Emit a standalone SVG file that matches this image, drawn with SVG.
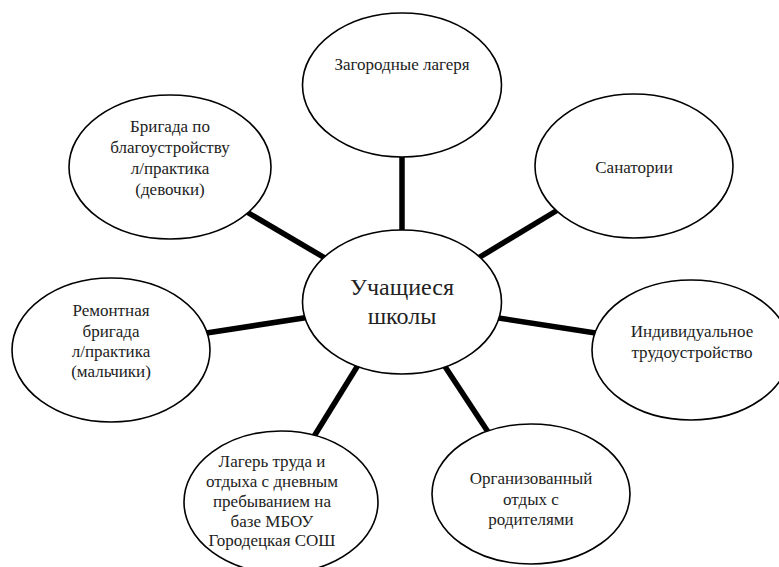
<svg xmlns="http://www.w3.org/2000/svg" width="779" height="567" viewBox="0 0 779 567">
<style>
.n ellipse{fill:#fff;stroke:#000;stroke-width:1.6}
.c line{stroke:#000;stroke-width:5.5}
text{font-family:"Liberation Serif","Times New Roman",serif;font-size:17px;fill:#222;text-anchor:middle}
.big{font-size:24px}
</style>
<rect width="779" height="567" fill="#fff"/>
<g id="connectors" class="c">
<line x1="402" y1="150" x2="402" y2="236"/>
<line x1="240" y1="208" x2="330" y2="261"/>
<line x1="561" y1="208" x2="475" y2="260"/>
<line x1="200" y1="334" x2="310" y2="317"/>
<line x1="492" y1="317" x2="602" y2="334"/>
<line x1="360" y1="362" x2="313" y2="438"/>
<line x1="442" y1="362" x2="492" y2="438"/>
</g>
<g id="n-zagorodnye" class="n">
<ellipse cx="402" cy="85" rx="99.5" ry="72"/>
<text x="402" y="70">Загородные лагеря</text>
</g>
<g id="n-brigada" class="n">
<ellipse cx="170" cy="167" rx="101" ry="72"/>
<text x="170" y="132">Бригада по</text>
<text x="170" y="153">благоустройству</text>
<text x="170" y="174">л/практика</text>
<text x="170" y="195">(девочки)</text>
</g>
<g id="n-sanatorii" class="n">
<ellipse cx="634" cy="166" rx="99" ry="72"/>
<text x="634" y="173">Санатории</text>
</g>
<g id="n-center" class="n">
<ellipse cx="402" cy="302" rx="99.5" ry="72"/>
<text class="big" x="402" y="295">Учащиеся</text>
<text class="big" x="402" y="324">школы</text>
</g>
<g id="n-remont" class="n">
<ellipse cx="111" cy="350" rx="99" ry="72"/>
<text x="111" y="316">Ремонтная</text>
<text x="111" y="337">бригада</text>
<text x="111" y="357">л/практика</text>
<text x="111" y="377">(мальчики)</text>
</g>
<g id="n-individ" class="n">
<ellipse cx="691" cy="350" rx="99" ry="70"/>
<text x="692" y="337">Индивидуальное</text>
<text x="692" y="358">трудоустройство</text>
</g>
<g id="n-lager" class="n">
<ellipse cx="281" cy="502" rx="97" ry="71"/>
<text x="272" y="467">Лагерь труда и</text>
<text x="272" y="487">отдыха с дневным</text>
<text x="272" y="507">пребыванием на</text>
<text x="272" y="527">базе МБОУ</text>
<text x="272" y="546">Городецкая СОШ</text>
</g>
<g id="n-organiz" class="n">
<ellipse cx="531" cy="494" rx="99" ry="70"/>
<text x="531" y="484">Организованный</text>
<text x="531" y="505">отдых с</text>
<text x="531" y="525">родителями</text>
</g>
</svg>
